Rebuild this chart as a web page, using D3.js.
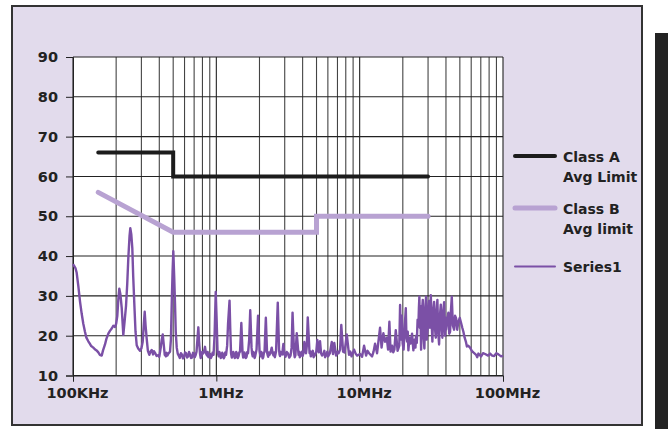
<!DOCTYPE html>
<html>
<head>
<meta charset="utf-8">
<script src="https://cdn.jsdelivr.net/npm/d3@7"></script>
<style>
  body { margin: 0; background: #fff; }
  text { font-family: 'DejaVu Sans', sans-serif; font-weight: bold; fill: #222; }
</style>
</head>
<body>
<div id="chart"></div>
<script>
// frequencies in MHz, levels in dB
const decadeTicks = [0.1, 1, 10, 100]
const decadeLabels = ['100KHz', '1MHz', '10MHz', '100MHz']
const levelTicks = [10, 20, 30, 40, 50, 60, 70, 80, 90]

const classAFreq = [0.15, 0.5, 0.5, 30]
const classALevel = [66, 66, 60, 60]
const classBFreq = [0.15, 0.5, 5, 5, 30]
const classBLevel = [56, 46, 46, 50, 50]

const series1 = [
  [0.100, 38], [0.1016, 37.6], [0.104, 37.0], [0.1061, 35.8], [0.1089, 32.5], [0.112, 28.5],
  [0.115, 25.5], [0.118, 23.0], [0.1212, 21.0], [0.124, 19.5], [0.1279, 18.6], [0.131, 18.0],
  [0.134, 17.4], [0.1386, 17.0], [0.142, 16.6], [0.146, 16.3], [0.1502, 15.8], [0.154, 15.2],
  [0.1586, 15.0], [0.162, 16.3], [0.1672, 17.8], [0.171, 19.2], [0.1764, 20.5], [0.181, 21.2],
  [0.1862, 21.8], [0.191, 22.5], [0.1964, 22.2], [0.200, 23.0], [0.2038, 25.0], [0.207, 29.0],
  [0.2104, 31.8], [0.214, 30.5], [0.2187, 27.0], [0.2244, 20.2], [0.229, 23.5], [0.2344, 27.5],
  [0.239, 33.0], [0.2432, 39.5], [0.248, 45.0], [0.2511, 47.0], [0.255, 45.5], [0.2593, 42.0],
  [0.263, 35.0], [0.2678, 28.0], [0.273, 21.0], [0.2783, 17.6], [0.285, 16.8], [0.2935, 16.2],
  [0.300, 16.8], [0.3064, 18.5], [0.312, 23.0], [0.3164, 26.0], [0.321, 22.5], [0.3268, 19.2],
  [0.333, 16.2], [0.3408, 15.2], [0.347, 16.0], [0.3541, 16.4], [0.362, 15.3], [0.367, 16.1],
  [0.3734, 15.7], [0.383, 14.9], [0.3938, 15.1], [0.400, 14.7], [0.4093, 17.0], [0.416, 19.0],
  [0.4227, 20.3], [0.429, 18.0], [0.4365, 15.2], [0.445, 14.8], [0.450, 15.7], [0.455, 15.0],
  [0.465, 15.6], [0.4752, 16.0], [0.482, 19.0], [0.4884, 28.0], [0.495, 36.0], [0.5011, 41.2],
  [0.508, 35.0], [0.515, 28.0], [0.521, 21.0], [0.5293, 17.0], [0.538, 15.5], [0.5466, 15.0],
  [0.556, 14.4], [0.566, 15.6], [0.5765, 15.2], [0.585, 14.3], [0.595, 14.6], [0.605, 15.8],
  [0.6146, 15.6], [0.625, 14.5], [0.635, 14.8], [0.645, 15.9], [0.6554, 15.3], [0.666, 14.4],
  [0.677, 14.5], [0.688, 15.7], [0.6989, 15.4], [0.707, 14.6], [0.715, 15.0], [0.7275, 16.0],
  [0.738, 19.0], [0.7489, 22.1], [0.758, 18.5], [0.7697, 15.4], [0.778, 14.4], [0.788, 14.8],
  [0.797, 15.9], [0.8075, 15.5], [0.820, 16.0], [0.8338, 17.2], [0.846, 15.6], [0.861, 15.0],
  [0.870, 15.9], [0.880, 14.6], [0.892, 15.1], [0.9036, 15.4], [0.916, 14.4], [0.930, 14.9],
  [0.943, 15.8], [0.9561, 15.2], [0.972, 20.0], [0.9904, 31.0], [1.005, 24.0], [1.0195, 16.0],
  [1.030, 15.3], [1.040, 14.8], [1.050, 15.9], [1.0612, 15.5], [1.074, 14.4], [1.087, 14.6],
  [1.100, 15.7], [1.1137, 15.3], [1.127, 14.3], [1.140, 14.7], [1.154, 15.8], [1.1687, 15.2],
  [1.190, 17.5], [1.2069, 23.0], [1.2363, 28.8], [1.250, 22.0], [1.2665, 15.6], [1.282, 14.5],
  [1.297, 14.8], [1.313, 15.9], [1.3289, 15.4], [1.345, 14.4], [1.360, 14.5], [1.377, 15.9],
  [1.3945, 15.5], [1.412, 14.4], [1.430, 14.9], [1.446, 15.8], [1.4633, 16.0], [1.4943, 23.2],
  [1.5234, 15.8], [1.539, 14.5], [1.555, 14.6], [1.570, 15.8], [1.586, 15.3], [1.605, 14.4],
  [1.625, 14.7], [1.645, 15.9], [1.6644, 15.6], [1.695, 19.0], [1.7241, 26.4], [1.7602, 17.0],
  [1.777, 15.4], [1.795, 14.8], [1.813, 15.9], [1.8326, 15.5], [1.851, 14.4], [1.870, 15.0],
  [1.9077, 16.5], [1.9543, 25.0], [2.002, 16.2], [2.020, 15.3], [2.040, 14.8], [2.062, 15.9],
  [2.0839, 15.4], [2.104, 14.3], [2.125, 14.6], [2.147, 15.7], [2.1695, 16.0], [2.215, 24.5],
  [2.2583, 15.8], [2.279, 15.2], [2.300, 14.7], [2.325, 15.8], [2.3504, 15.2], [2.392, 15.9],
  [2.4352, 17.0], [2.470, 15.6], [2.5064, 15.0], [2.533, 15.8], [2.560, 14.6], [2.6104, 16.0],
  [2.683, 28.3], [2.7392, 16.5], [2.760, 15.3], [2.780, 14.9], [2.804, 15.9], [2.8288, 15.4],
  [2.882, 15.3], [2.9355, 17.9], [2.990, 15.2], [3.0407, 14.7], [3.100, 15.9], [3.1644, 15.5],
  [3.230, 14.5], [3.2944, 15.0], [3.350, 17.0], [3.4021, 25.8], [3.4847, 15.8], [3.520, 14.6],
  [3.560, 15.0], [3.6395, 20.6], [3.746, 15.2], [3.782, 16.0], [3.820, 14.6], [3.8998, 15.4],
  [3.950, 16.0], [4.000, 14.9], [4.056, 15.6], [4.112, 18.4], [4.2267, 15.6], [4.280, 17.5],
  [4.3434, 24.6], [4.4713, 15.6], [4.515, 16.1], [4.560, 14.8], [4.6541, 15.5], [4.710, 16.2],
  [4.770, 14.6], [4.8846, 15.2], [4.980, 16.0], [5.0679, 18.9], [5.180, 15.8], [5.2915, 18.6],
  [5.380, 15.6], [5.4648, 15.0], [5.600, 15.5], [5.670, 16.2], [5.7346, 14.6], [5.880, 15.3],
  [5.950, 16.0], [6.0181, 14.8], [6.200, 15.6], [6.3884, 18.4], [6.520, 15.4], [6.6511, 18.2],
  [6.8456, 15.0], [7.000, 16.0], [7.127, 15.6], [7.300, 16.5], [7.4425, 22.7], [7.6611, 16.0],
  [7.847, 15.8], [8.1283, 20.3], [8.4335, 15.2], [8.600, 16.0], [8.7801, 14.8], [9.1395, 16.5],
  [9.370, 15.5], [9.5916, 15.0], [10.065, 15.4], [10.394, 14.7], [10.733, 17.5], [11.083, 15.0],
  [11.35, 16.2], [11.63, 15.6], [12.204, 14.8], [12.5, 16.0], [12.807, 18.0], [13.225, 15.6],
  [13.878, 22.0], [14.216, 17.0], [14.633, 20.6], [15.04, 18.5], [15.456, 19.5], [15.784, 16.5],
  [16.118, 23.5], [16.43, 16.0], [16.831, 17.5], [17.15, 15.8], [17.463, 16.5], [17.862, 21.4],
  [18.386, 16.2], [18.9, 17.5], [19.143, 27.7], [19.4, 19.0], [19.676, 25.0], [19.95, 18.0],
  [20.252, 16.5], [20.6, 22.0], [20.981, 26.9], [21.2, 19.5], [21.425, 18.5], [21.65, 21.0],
  [21.878, 16.3], [22.25, 19.5], [22.662, 18.0], [23.2, 20.5], [23.702, 16.3], [24.1, 19.0],
  [24.5, 17.0], [24.75, 20.0], [25.036, 18.2], [25.36, 24.0], [25.685, 22.3], [25.9, 27.0],
  [26.102, 29.8], [26.3, 22.0], [26.5, 27.5], [26.827, 16.5], [27.2, 26.0], [27.566, 29.0],
  [27.9, 20.0], [28.285, 16.8], [28.7, 27.0], [29.072, 29.8], [29.4, 19.0], [29.78, 21.5],
  [30.1, 26.5], [30.503, 28.7], [30.9, 22.0], [31.352, 30.2], [31.75, 24.0], [32.163, 18.5],
  [32.6, 26.0], [33.058, 28.5], [33.5, 22.0], [33.971, 19.5], [34.4, 26.0], [34.856, 29.0],
  [35.3, 21.0], [35.826, 17.8], [36.3, 25.0], [36.815, 27.8], [37.3, 22.5], [37.774, 19.5],
  [38.3, 26.0], [38.823, 28.4], [39.15, 23.0], [39.5, 20.0], [39.8, 24.5], [40.086, 21.5],
  [40.8, 24.0], [41.591, 25.8], [42.15, 20.5], [42.742, 21.0], [43.3, 26.0], [43.925, 29.8],
  [44.7, 22.5], [45.584, 21.5], [46.3, 25.0], [47.067, 24.4], [47.9, 21.5], [48.843, 23.5],
  [49.9, 24.5], [51.004, 23.2], [52.0, 22.0], [52.928, 21.0], [54.0, 19.5], [55.006, 18.6],
  [56.0, 17.3], [57.078, 17.5], [58.942, 17.0], [60.5, 16.2], [62.144, 15.8], [64.908, 15.2],
  [66.1, 14.6], [67.345, 15.5], [70.342, 14.8], [72.6, 15.6], [74.99, 15.4], [78.7, 15.0],
  [81.27, 15.5], [84.0, 15.0], [86.7, 14.9], [89.8, 15.6], [92.89, 15.3], [96.98, 14.8],
  [100, 15.0]
]

const legendItems = [
  {lines: ['Class A', 'Avg Limit'], color: '#1c1c1c', width: 4},
  {lines: ['Class B', 'Avg limit'], color: '#b8a2d2', width: 5},
  {lines: ['Series1'], color: '#7b50a6', width: 2}
]

const width = 668, height = 429
const plot = {left: 73, right: 503, top: 57, bottom: 375.5}

const svg = d3.select('#chart').append('svg')
  .attr('width', width)
  .attr('height', height)

// panel + black strip at right
svg.append('rect')
  .attr('x', 12).attr('y', 6)
  .attr('width', 630).attr('height', 419)
  .attr('fill', '#e2dbec')
  .attr('stroke', '#333')
  .attr('stroke-width', 2)
svg.append('rect')
  .attr('x', 655).attr('y', 33)
  .attr('width', 13).attr('height', height - 33)
  .attr('fill', '#232323')

const x = d3.scaleLog().domain([0.1, 100]).range([plot.left, plot.right])
const y = d3.scaleLinear().domain([10, 90]).range([plot.bottom, plot.top])

svg.append('rect')
  .attr('x', plot.left).attr('y', plot.top)
  .attr('width', plot.right - plot.left)
  .attr('height', plot.bottom - plot.top)
  .attr('fill', '#fff')

// vertical grid: 1..9 in every decade
const grid = svg.append('g')
grid.selectAll('.vgrid')
  .data(x.ticks())
  .enter().append('line')
  .attr('x1', d => x(d)).attr('x2', d => x(d))
  .attr('y1', plot.top).attr('y2', plot.bottom)
  .attr('stroke', d => decadeTicks.includes(d) ? '#222' : '#444')
  .attr('stroke-width', 1.1)
grid.selectAll('.hgrid')
  .data(levelTicks)
  .enter().append('line')
  .attr('x1', plot.left).attr('x2', plot.right)
  .attr('y1', d => y(d)).attr('y2', d => y(d))
  .attr('stroke', '#222')
  .attr('stroke-width', 1.1)

const yAxis = svg.append('g')
  .attr('transform', `translate(${plot.left},0)`)
  .call(d3.axisLeft(y).tickValues(levelTicks).tickSize(7).tickPadding(8))
yAxis.select('.domain').attr('stroke', '#222')
yAxis.selectAll('.tick line').attr('stroke', '#222')
yAxis.selectAll('text').style('font-size', '14.5px').attr('fill', '#222')

const xAxis = svg.append('g')
  .attr('transform', `translate(0,${plot.bottom})`)
  .call(d3.axisBottom(x).tickValues(decadeTicks).tickSize(6).tickPadding(6.5)
    .tickFormat((d, i) => decadeLabels[i]))
xAxis.select('.domain').attr('stroke', '#222')
xAxis.selectAll('.tick line').attr('stroke', '#222')
xAxis.selectAll('text').style('font-size', '14.5px').attr('fill', '#222').attr('dx', 4)

const line = d3.line()
  .x(d => x(d[0]))
  .y(d => y(d[1]))

svg.append('path')
  .datum(series1)
  .attr('d', line)
  .attr('fill', 'none')
  .attr('stroke', legendItems[2].color)
  .attr('stroke-width', 2.4)
  .attr('stroke-linejoin', 'round')

svg.append('path')
  .datum(d3.zip(classBFreq, classBLevel))
  .attr('d', line)
  .attr('fill', 'none')
  .attr('stroke', legendItems[1].color)
  .attr('stroke-width', legendItems[1].width)
  .attr('stroke-linecap', 'round')

svg.append('path')
  .datum(d3.zip(classAFreq, classALevel))
  .attr('d', line)
  .attr('fill', 'none')
  .attr('stroke', legendItems[0].color)
  .attr('stroke-width', legendItems[0].width)
  .attr('stroke-linecap', 'round')

// legend
const legendY = [156, 208, 266.5]
const legend = svg.append('g').selectAll('.legend')
  .data(legendItems)
  .enter().append('g')
  .attr('transform', (d, i) => `translate(0,${legendY[i]})`)
legend.append('line')
  .attr('x1', 515).attr('x2', 555)
  .attr('stroke', d => d.color)
  .attr('stroke-width', d => d.width)
  .attr('stroke-linecap', 'round')
legend.append('text')
  .attr('x', 563)
  .attr('y', 5.5)
  .style('font-size', '14px')
  .selectAll('tspan')
  .data(d => d.lines)
  .enter().append('tspan')
  .attr('x', 563)
  .attr('dy', (d, i) => i ? 20 : 0)
  .text(d => d)
</script>
</body>
</html>
